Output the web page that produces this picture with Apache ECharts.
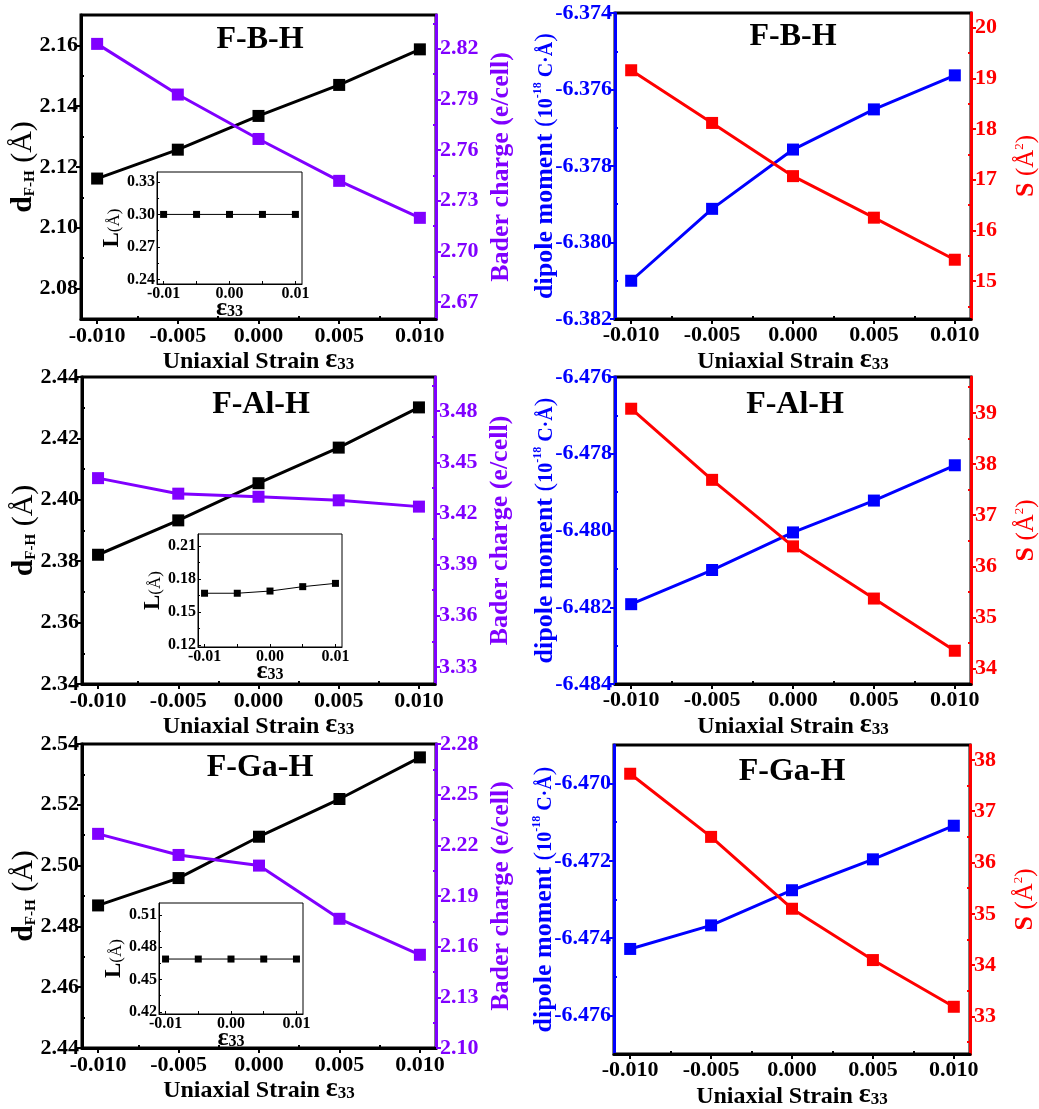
<!DOCTYPE html>
<html>
<head>
<meta charset="utf-8">
<script src="https://cdn.jsdelivr.net/npm/echarts@6.0.0/dist/echarts.min.js"></script>
<style>
  html, body { margin: 0; padding: 0; background: #fff; }
  #chart { width: 1039px; height: 1109px; }
</style>
</head>
<body>
<div id="chart"></div>
<script>
// strain values (x) and tick labels
const strain = [-0.010, -0.005, 0.000, 0.005, 0.010];
const strainTicks = [-0.010, -0.005, 0.000, 0.005, 0.010];
const insetStrainTicks = [-0.01, 0.00, 0.01];

// F-B-H
const fbhBond = [2.1162, 2.1257, 2.1368, 2.1470, 2.1587];
const fbhBader = [2.8229, 2.7929, 2.7666, 2.7418, 2.7199];
const fbhL = [0.300, 0.300, 0.300, 0.300, 0.300];
const fbhDipole = [-6.38100, -6.37912, -6.37757, -6.37652, -6.37563];
const fbhArea = [19.16, 18.12, 17.07, 16.25, 15.42];
const fbhBondTicks = [2.08, 2.10, 2.12, 2.14, 2.16];
const fbhBaderTicks = [2.67, 2.70, 2.73, 2.76, 2.79, 2.82];
const fbhLTicks = [0.24, 0.27, 0.30, 0.33];
const fbhDipoleTicks = [-6.382, -6.380, -6.378, -6.376, -6.374];
const fbhAreaTicks = [15, 16, 17, 18, 19, 20];

// F-Al-H
const falhBond = [2.3821, 2.3933, 2.4054, 2.4170, 2.4301];
const falhBader = [3.4407, 3.4316, 3.4298, 3.4277, 3.4240];
const falhL = [0.167, 0.167, 0.169, 0.173, 0.176];
const falhDipole = [-6.48192, -6.48103, -6.48005, -6.47922, -6.47830];
const falhArea = [39.08, 37.69, 36.39, 35.37, 34.35];
const falhBondTicks = [2.34, 2.36, 2.38, 2.40, 2.42, 2.44];
const falhBaderTicks = [3.33, 3.36, 3.39, 3.42, 3.45, 3.48];
const falhLTicks = [0.12, 0.15, 0.18, 0.21];
const falhDipoleTicks = [-6.484, -6.482, -6.480, -6.478, -6.476];
const falhAreaTicks = [34, 35, 36, 37, 38, 39];

// F-Ga-H
const fgahBond = [2.4869, 2.4959, 2.5095, 2.5219, 2.5356];
const fgahBader = [2.2268, 2.2143, 2.2080, 2.1765, 2.1552];
const fgahL = [0.469, 0.469, 0.469, 0.469, 0.469];
const fgahDipole = [-6.47428, -6.47367, -6.47276, -6.47196, -6.47109];
const fgahArea = [37.73, 36.50, 35.10, 34.10, 33.19];
const fgahBondTicks = [2.44, 2.46, 2.48, 2.50, 2.52, 2.54];
const fgahBaderTicks = [2.10, 2.13, 2.16, 2.19, 2.22, 2.25, 2.28];
const fgahLTicks = [0.42, 0.45, 0.48, 0.51];
const fgahDipoleTicks = [-6.476, -6.474, -6.472, -6.470];
const fgahAreaTicks = [33, 34, 35, 36, 37, 38];

const FONT = '"Liberation Serif", "Times New Roman", serif';
const BLACK = '#000000';
const PURPLE = '#8000ff';
const BLUE = '#0000ff';
const RED = '#ff0000';

const grids = [];
const xAxes = [];
const yAxes = [];
const series = [];
const graphics = [];

// 次刻度取相邻主刻度的中点
function minorOf(ticks, min, max) {
  const step = ticks[1] - ticks[0];
  const out = [];
  for (let i = -1; i < ticks.length; i++) {
    const v = ticks[0] + (i + 0.5) * step;
    if (v > min + step * 0.1 && v < max - step * 0.1) out.push(v);
  }
  return out;
}

function addAxis(list, o) {
  const base = {
    type: 'value', gridIndex: o.grid, position: o.pos, min: o.min, max: o.max,
    splitLine: { show: false }, silent: true
  };
  const idx = list.length;
  list.push(Object.assign({}, base, {
    axisLine: { show: true, onZero: false, lineStyle: { color: o.color, width: o.lw } },
    axisTick: {
      show: true, inside: o.inside, length: o.tl, customValues: o.ticks,
      lineStyle: { color: o.color, width: o.tw }
    },
    axisLabel: {
      show: true, customValues: o.ticks, margin: o.margin, color: o.color,
      fontFamily: FONT, fontWeight: 'bold', fontSize: o.fs,
      formatter: v => Number(v).toFixed(o.digits)
    },
    name: o.name || '', nameLocation: 'middle', nameGap: o.gap, nameRotate: o.rotate,
    nameMoveOverlap: false,
    nameTextStyle: o.nameStyle
  }));
  if (o.minor) {
    list.push(Object.assign({}, base, {
      axisLine: { show: false, onZero: false },
      axisLabel: { show: false },
      axisTick: {
        show: true, inside: true, length: o.mtl, customValues: minorOf(o.ticks, o.min, o.max),
        lineStyle: { color: o.color, width: o.tw }
      }
    }));
  }
  return idx;
}

function tok(size, color, bold, extra) {
  return Object.assign({
    fontFamily: FONT, fontSize: size, color: color,
    fontWeight: bold ? 'bold' : 'normal', verticalAlign: 'bottom'
  }, extra || {});
}

const strainName = {
  text: '{a|Uniaxial Strain }{e|ε}{n|33}',
  style: {
    rich: {
      a: tok(24, BLACK, true),
      e: tok(28, BLACK, true),
      n: tok(17, BLACK, true, { padding: [0, 0, 1, 0] })
    }
  }
};

function addLine(xi, yi, ys, color, lw, size) {
  series.push({
    type: 'line', xAxisIndex: xi, yAxisIndex: yi,
    data: strain.map((s, i) => [s, ys[i]]),
    symbol: 'rect', symbolSize: size, showSymbol: true,
    lineStyle: { color: color, width: lw }, itemStyle: { color: color },
    animation: false, silent: true
  });
}

function addTitle(text, x, y) {
  graphics.push({
    type: 'text', x: x, y: y, silent: true,
    style: {
      text: text, fill: BLACK, font: 'bold 32px ' + FONT,
      textAlign: 'center', textVerticalAlign: 'middle'
    }
  });
}

function addXAxis(g, ticks, digits, fs, margin, inset) {
  return addAxis(xAxes, {
    grid: g, pos: 'bottom', min: -0.011, max: 0.011, ticks: ticks, digits: digits,
    color: BLACK, lw: inset ? 1 : 3, tw: inset ? 1 : 2, tl: inset ? 3 : 5, inside: !!inset,
    fs: fs, margin: margin, minor: true, mtl: 3,
    name: inset ? '{e|ε}{n|33}' : strainName.text,
    gap: inset ? 11 : 27,
    nameStyle: inset
      ? { rich: { e: tok(26, BLACK, true), n: tok(16, BLACK, true, { padding: [0, 0, 1, 0] }) } }
      : strainName.style
  });
}

// 左列: 键长 + Bader 电荷 + 插图
const leftPanels = [
  { title: 'F-B-H', tx: 260, ty: 40, box: [81, 15, 355, 304],
    bond: fbhBond, bondMin: 2.07, bondMax: 2.17, bondTicks: fbhBondTicks,
    bader: fbhBader, baderMin: 2.66, baderMax: 2.84, baderTicks: fbhBaderTicks,
    inset: [157, 172, 145, 112], L: fbhL, lMin: 0.236, lMax: 0.339, lTicks: fbhLTicks },
  { title: 'F-Al-H', tx: 261, ty: 405, box: [82, 377, 353, 307],
    bond: falhBond, bondMin: 2.34, bondMax: 2.44, bondTicks: falhBondTicks,
    bader: falhBader, baderMin: 3.32, baderMax: 3.50, baderTicks: falhBaderTicks,
    inset: [198, 534, 144, 113], L: falhL, lMin: 0.118, lMax: 0.221, lTicks: falhLTicks },
  { title: 'F-Ga-H', tx: 260, ty: 768, box: [82, 744, 354, 304],
    bond: fgahBond, bondMin: 2.44, bondMax: 2.54, bondTicks: fgahBondTicks,
    bader: fgahBader, baderMin: 2.10, baderMax: 2.28, baderTicks: fgahBaderTicks,
    inset: [159, 903, 144, 111], L: fgahL, lMin: 0.418, lMax: 0.521, lTicks: fgahLTicks }
];

// 右列: 偶极矩 + 面积
const rightPanels = [
  { title: 'F-B-H', tx: 793, ty: 37, box: [615, 13, 356, 306],
    dip: fbhDipole, dipMin: -6.382, dipMax: -6.374, dipTicks: fbhDipoleTicks,
    area: fbhArea, areaMin: 14.25, areaMax: 20.29, areaTicks: fbhAreaTicks },
  { title: 'F-Al-H', tx: 795, ty: 405, box: [615, 377, 356, 307],
    dip: falhDipole, dipMin: -6.484, dipMax: -6.476, dipTicks: falhDipoleTicks,
    area: falhArea, areaMin: 33.7, areaMax: 39.7, areaTicks: falhAreaTicks },
  { title: 'F-Ga-H', tx: 792, ty: 772, box: [614, 745, 356, 309],
    dip: fgahDipole, dipMin: -6.477, dipMax: -6.469, dipTicks: fgahDipoleTicks,
    area: fgahArea, areaMin: 32.27, areaMax: 38.29, areaTicks: fgahAreaTicks }
];

function gridOf(box, bw) {
  grids.push({
    left: box[0], top: box[1], width: box[2], height: box[3],
    show: true, borderColor: BLACK, borderWidth: bw, backgroundColor: 'transparent',
    containLabel: false, outerBoundsMode: 'none'
  });
  return grids.length - 1;
}

leftPanels.forEach(p => {
  const g = gridOf(p.box, 3);
  const xi = addXAxis(g, strainTicks, 3, 22, 6, false);
  const yl = addAxis(yAxes, {
    grid: g, pos: 'left', min: p.bondMin, max: p.bondMax, ticks: p.bondTicks, digits: 2,
    color: BLACK, lw: 3, tw: 2, tl: 5, inside: false, fs: 22, margin: 3, minor: true, mtl: 3,
    name: '{d|d}{s|F-H}{p| (Å)}', gap: 43, rotate: 90,
    nameStyle: { rich: {
      d: tok(30, BLACK, true),
      s: tok(15, BLACK, true, { lineHeight: 6 }),
      p: tok(30, BLACK, false)
    } }
  });
  const yr = addAxis(yAxes, {
    grid: g, pos: 'right', min: p.baderMin, max: p.baderMax, ticks: p.baderTicks, digits: 2,
    color: PURPLE, lw: 3, tw: 2, tl: 5, inside: false, fs: 22, margin: 4, minor: true, mtl: 3,
    name: 'Bader charge (e/cell)', gap: 52, rotate: 90,
    nameStyle: { fontFamily: FONT, fontWeight: 'bold', fontSize: 26, color: PURPLE }
  });
  addLine(xi, yl, p.bond, BLACK, 3, 12);
  addLine(xi, yr, p.bader, PURPLE, 3, 12);
  addTitle(p.title, p.tx, p.ty);

  // 插图 L(Å)
  const gi = gridOf(p.inset, 1);
  const ixi = addXAxis(gi, insetStrainTicks, 2, 16, 2, true);
  const iyi = addAxis(yAxes, {
    grid: gi, pos: 'left', min: p.lMin, max: p.lMax, ticks: p.lTicks, digits: 2,
    color: BLACK, lw: 1, tw: 1, tl: 3, inside: true, fs: 16, margin: 2, minor: true, mtl: 2,
    name: '{L|L}{p|(Å)}', gap: 33, rotate: 90,
    nameStyle: { rich: { L: tok(23, BLACK, true), p: tok(17, BLACK, false, { padding: [0, 0, 1, 0] }) } }
  });
  addLine(ixi, iyi, p.L, BLACK, 1, 7);
});

rightPanels.forEach(p => {
  const g = gridOf(p.box, 3);
  const xi = addXAxis(g, strainTicks, 3, 22, 5, false);
  const yl = addAxis(yAxes, {
    grid: g, pos: 'left', min: p.dipMin, max: p.dipMax, ticks: p.dipTicks, digits: 3,
    color: BLUE, lw: 3, tw: 2, tl: 5, inside: false, fs: 22, margin: 3, minor: true, mtl: 3,
    name: '{b|dipole moment }{p|(}{m|10}{u|-18}{m| C·Å}{p|)}', gap: 57, rotate: 90,
    nameStyle: { rich: {
      b: tok(26, BLUE, true),
      p: tok(26, BLUE, false),
      m: tok(20, BLUE, true, { padding: [0, 0, 1, 0] }),
      u: tok(12, BLUE, true, { verticalAlign: 'top', lineHeight: 14 })
    } }
  });
  const yr = addAxis(yAxes, {
    grid: g, pos: 'right', min: p.areaMin, max: p.areaMax, ticks: p.areaTicks, digits: 0,
    color: RED, lw: 3, tw: 2, tl: 5, inside: false, fs: 22, margin: 4, minor: true, mtl: 3,
    name: '{b|S }{p|(Å}{u|2}{p|)}', gap: 42, rotate: 90,
    nameStyle: { rich: {
      b: tok(26, RED, true),
      p: tok(25, RED, false),
      u: tok(13, RED, false, { verticalAlign: 'top', lineHeight: 14 })
    } }
  });
  addLine(xi, yl, p.dip, BLUE, 3, 12);
  addLine(xi, yr, p.area, RED, 3, 12);
  addTitle(p.title, p.tx, p.ty);
});

const chart = echarts.init(document.getElementById('chart'), null, { renderer: 'canvas' });
chart.setOption({
  backgroundColor: '#ffffff',
  animation: false,
  textStyle: { fontFamily: FONT },
  grid: grids,
  xAxis: xAxes,
  yAxis: yAxes,
  series: series,
  graphic: graphics
});
window.addEventListener('resize', () => chart.resize());
</script>
</body>
</html>
